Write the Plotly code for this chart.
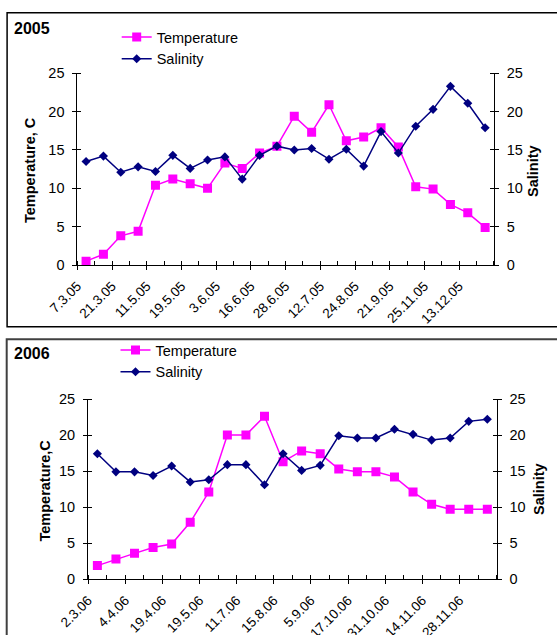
import plotly.graph_objects as go

# ---------------- data ----------------
labels05 = ["7.3.05", "21.3.05", "11.5.05", "19.5.05", "3.6.05", "16.6.05",
            "28.6.05", "12.7.05", "24.8.05", "21.9.05", "25.11.05", "13.12.05"]
temp05 = [0.5, 1.4, 3.8, 4.4, 10.4, 11.2, 10.6, 10.0, 13.3, 12.6, 14.6, 15.5,
          19.4, 17.3, 20.9, 16.2, 16.7, 17.9, 15.4, 10.2, 9.9, 7.9, 6.8, 4.9]
sal05 = [13.5, 14.2, 12.1, 12.8, 12.2, 14.3, 12.6, 13.7, 14.1, 11.2, 14.3, 15.5,
         15.0, 15.2, 13.8, 15.1, 12.9, 17.4, 14.6, 18.1, 20.3, 23.3, 21.1, 17.9]

labels06 = ["2.3.06", "4.4.06", "19.4.06", "19.5.06", "11.7.06", "15.8.06",
            "5.9.06", "17.10.06", "31.10.06", "14.11.06", "28.11.06"]
temp06 = [1.9, 2.8, 3.6, 4.4, 4.9, 7.9, 12.1, 20.0, 20.0, 22.6, 16.3, 17.8,
          17.4, 15.3, 14.9, 14.9, 14.2, 12.1, 10.4, 9.7, 9.7, 9.7]
sal06 = [17.4, 14.9, 14.9, 14.4, 15.7, 13.5, 13.8, 15.9, 15.9, 13.1, 17.4, 15.1,
         15.8, 19.9, 19.6, 19.6, 20.8, 20.1, 19.3, 19.6, 21.9, 22.2]

yticks = [0, 5, 10, 15, 20, 25]

# ---------------- style ----------------
FONT = "Liberation Sans, Arial, sans-serif"
TEMP_C = "#FF00FF"
SAL_C = "#000080"
W, H = 557, 635


def px_x(v):
    return v / W


def px_y(v):
    return 1 - v / H


fig = go.Figure()


def add_panel(temp, sal, xa, ya_t, ya_s, legend):
    n = len(temp)
    xs = list(range(n))
    fig.add_trace(go.Scatter(
        x=xs, y=temp, name="Temperature", mode="lines+markers",
        line=dict(color=TEMP_C, width=1.5),
        marker=dict(symbol="square", size=9, color=TEMP_C),
        xaxis=xa, yaxis=ya_t, legend=legend, showlegend=True, hoverinfo="skip"))
    fig.add_trace(go.Scatter(
        x=xs, y=sal, name="Salinity", mode="lines+markers",
        line=dict(color=SAL_C, width=1.5),
        marker=dict(symbol="diamond", size=7, color=SAL_C),
        xaxis=xa, yaxis=ya_s, legend=legend, showlegend=True, hoverinfo="skip"))


def x_axis(n, labels, domain, anchor):
    bounds = [i - 0.5 for i in range(n + 1)]
    text = [labels[i // 2] if (i % 2 == 0 and i // 2 < len(labels)) else ""
            for i in range(n + 1)]
    return dict(
        domain=domain, anchor=anchor, range=[-0.5, n - 0.5],
        tickmode="array", tickvals=bounds, ticktext=text,
        ticks="outside", ticklen=4, tickcolor="black", tickwidth=1,
        minor=dict(tickmode="array", tickvals=bounds, ticks="inside",
                   ticklen=4, tickcolor="black", tickwidth=1),
        tickangle=-45, tickfont=dict(family=FONT, size=13.5, color="black"),
        ticklabelstandoff=3, ticklabelshift=0,
        showline=True, linecolor="black", linewidth=1, automargin=False,
        showgrid=False, zeroline=False, fixedrange=True)


def y_axis(domain, anchor, side, overlaying=None):
    d = dict(
        domain=domain, anchor=anchor, side=side, range=[0, 25],
        tickmode="array", tickvals=yticks,
        ticks="outside", ticklen=4, tickcolor="black", tickwidth=1,
        minor=dict(tickmode="array", tickvals=yticks, ticks="inside",
                   ticklen=4, tickcolor="black", tickwidth=1),
        ticklabelstandoff=5, automargin=False,
        tickfont=dict(family=FONT, size=14.5, color="black"),
        showline=True, linecolor="black", linewidth=1,
        showgrid=False, zeroline=False, fixedrange=True)
    if overlaying:
        d["overlaying"] = overlaying
    return d


add_panel(temp05, sal05, "x", "y", "y2", "legend")
add_panel(temp06, sal06, "x2", "y3", "y4", "legend2")

dx1 = [px_x(77.4), px_x(493.8)]
dy1 = [px_y(265.0), px_y(73.3)]
dx2 = [px_x(88.1), px_x(496.6)]
dy2 = [px_y(579.3), px_y(399.0)]

leg_common = dict(xanchor="left", yanchor="top", bgcolor="rgba(0,0,0,0)",
                  borderwidth=0, font=dict(family=FONT, size=14.5, color="black"),
                  itemwidth=30, tracegroupgap=0)

fig.update_layout(
    template="none",
    width=W, height=H, margin=dict(l=0, r=0, t=0, b=0, autoexpand=False),
    paper_bgcolor="white", plot_bgcolor="white",
    font=dict(family=FONT, color="black"),
    xaxis=x_axis(len(temp05), labels05, dx1, "y"),
    yaxis=y_axis(dy1, "x", "left"),
    yaxis2=y_axis(dy1, "x", "right", "y"),
    xaxis2=x_axis(len(temp06), labels06, dx2, "y3"),
    yaxis3=y_axis(dy2, "x2", "left"),
    yaxis4=y_axis(dy2, "x2", "right", "y3"),
    legend=dict(x=px_x(116.7), y=px_y(21), **leg_common),
    legend2=dict(x=px_x(115.5), y=px_y(334), **leg_common),
    shapes=[
        dict(type="rect", xref="paper", yref="paper",
             x0=px_x(7.1), x1=1.05, y0=px_y(326.7), y1=px_y(12.7),
             line=dict(color="black", width=1.5), fillcolor="rgba(0,0,0,0)",
             layer="below"),
        dict(type="rect", xref="paper", yref="paper",
             x0=px_x(6.7), x1=1.05, y0=-0.1, y1=px_y(339.3),
             line=dict(color="#404040", width=2), fillcolor="rgba(0,0,0,0)",
             layer="below"),
    ],
    annotations=[
        dict(text="<b>2005</b>", xref="paper", yref="paper", x=px_x(11.5), y=px_y(28.3),
             xanchor="left", yanchor="middle", showarrow=False,
             font=dict(family=FONT, size=16, color="black")),
        dict(text="<b>2006</b>", xref="paper", yref="paper", x=px_x(12), y=px_y(353.7),
             xanchor="left", yanchor="middle", showarrow=False,
             font=dict(family=FONT, size=16, color="black")),
        dict(text="<b>Temperature, C</b>", xref="paper", yref="paper",
             x=px_x(30), y=px_y(170), textangle=-90, showarrow=False,
             xanchor="center", yanchor="middle",
             font=dict(family=FONT, size=14.5, color="black")),
        dict(text="<b>Salinity</b>", xref="paper", yref="paper",
             x=px_x(533), y=px_y(171), textangle=-90, showarrow=False,
             xanchor="center", yanchor="middle",
             font=dict(family=FONT, size=14.5, color="black")),
        dict(text="<b>Temperature,C</b>", xref="paper", yref="paper",
             x=px_x(44.5), y=px_y(491), textangle=-90, showarrow=False,
             xanchor="center", yanchor="middle",
             font=dict(family=FONT, size=14.5, color="black")),
        dict(text="<b>Salinity</b>", xref="paper", yref="paper",
             x=px_x(539), y=px_y(489), textangle=-90, showarrow=False,
             xanchor="center", yanchor="middle",
             font=dict(family=FONT, size=14.5, color="black")),
    ],
)

fig.write_html(
    "out.html",
    config={"displayModeBar": False, "staticPlot": True},
    post_script="document.body.style.margin='0px';"
                "document.body.style.overflow='hidden';"
                "document.documentElement.style.overflow='hidden';",
)
